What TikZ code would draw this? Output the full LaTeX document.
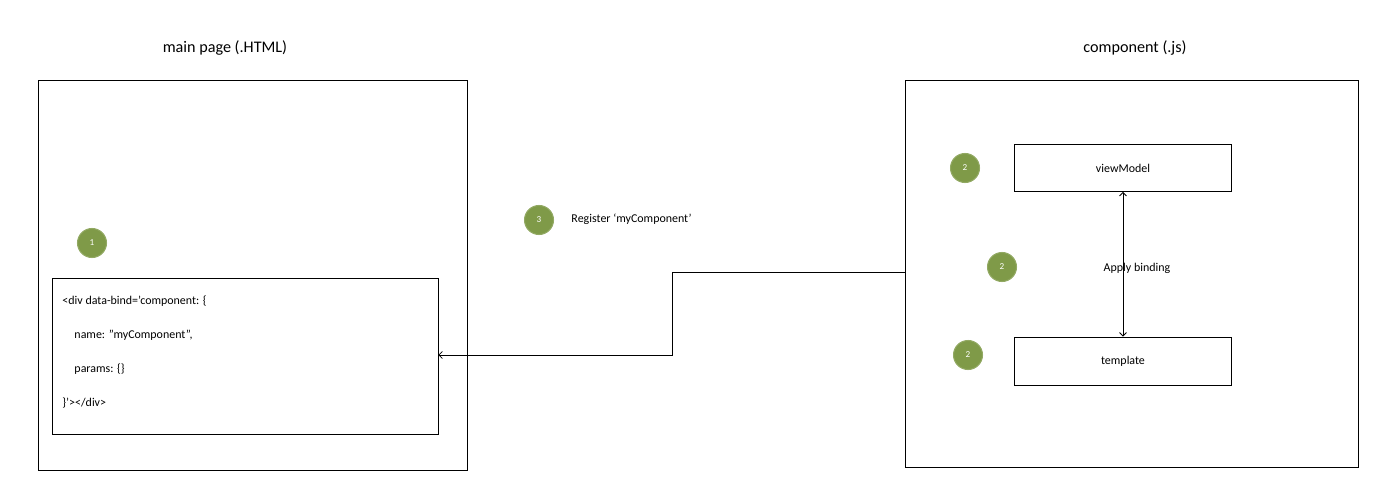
\documentclass[tikz,border=0pt]{standalone}
\usepackage{fontspec}
\usetikzlibrary{arrows.meta}
\setmainfont{Carlito}
\definecolor{gr}{HTML}{7F9A48}
\begin{document}
\begin{tikzpicture}[x=0.05cm,y=-0.05cm,
 box/.style={draw,line width=1pt},
 num/.style={circle,fill=gr,draw=gr!85!white,line width=1.5pt,inner sep=0,text=white,font=\fontsize{13}{15}\selectfont},
 lbl/.style={font=\fontsize{17}{20}\selectfont},
 ttl/.style={font=\fontsize{23}{27}\selectfont}]
\useasboundingbox (0,0) rectangle (1400,503);
\node[ttl] (t1) at (225,48) {main page (.HTML)};
\node[ttl] (t2) at (1135,48) {component (.js)};
\draw[box] (38,80) rectangle (467,470);
\draw[box] (905,80) rectangle (1358,467);
\node[box,minimum width=19.3cm,minimum height=7.8cm] (code) at (245,356) {};
\node[lbl,anchor=west] at (60,301) {<div data-bind='component: \{};
\node[lbl,anchor=west] at (72,335) {name: ”myComponent”,};
\node[lbl,anchor=west] at (72,369) {params: \{\}};
\node[lbl,anchor=west] at (60,403) {\}’></div>};
\node[box,lbl,minimum width=10.85cm,minimum height=2.35cm] (vm) at (1123,168) {viewModel};
\node[box,lbl,minimum width=10.85cm,minimum height=2.4cm] (tp) at (1123,361) {template};
\node[num,minimum size=1.45cm] (n1) at (92,243) {1};
\node[num,minimum size=1.45cm] (n3) at (539,220) {3};
\node[num,minimum size=1.45cm] (n2a) at (965,168) {2};
\node[num,minimum size=1.45cm] (n2b) at (1002,267) {2};
\node[num,minimum size=1.45cm] (n2c) at (968,355) {2};
\node[lbl,anchor=west] (reg) at (569,219) {Register ‘myComponent’};
\node[lbl] (ab) at (1137,268) {Apply binding};
\draw[line width=1.2pt,{Straight Barb[length=5pt,width=10pt]}-{Straight Barb[length=5pt,width=10pt]}] (vm.south) -- (tp.north);
\coordinate (s) at (905,272);
\draw[line width=1pt,-{Straight Barb[length=5pt,width=10pt]}] (s) -- (672,272) -- (672,355) -- (code.east |- 0,355);
\end{tikzpicture}
\end{document}
